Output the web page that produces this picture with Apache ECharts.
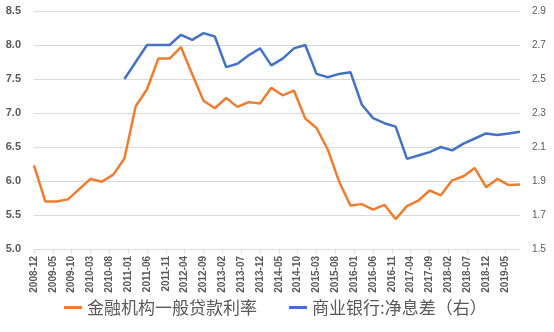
<!DOCTYPE html>
<html>
<head>
<meta charset="utf-8">
<script src="https://cdn.jsdelivr.net/npm/echarts@6/dist/echarts.min.js"></script>
<style>
  html, body { margin: 0; padding: 0; background: #fff; }
  #chart { width: 554px; height: 332px; }
</style>
</head>
<body>
<div id="chart"></div>
<script>
// Quarter-end dates of the observations
const quarters = [
  '2008-12','2009-03','2009-06','2009-09','2009-12','2010-03','2010-06','2010-09',
  '2010-12','2011-03','2011-06','2011-09','2011-12','2012-03','2012-06','2012-09',
  '2012-12','2013-03','2013-06','2013-09','2013-12','2014-03','2014-06','2014-09',
  '2014-12','2015-03','2015-06','2015-09','2015-12','2016-03','2016-06','2016-09',
  '2016-12','2017-03','2017-06','2017-09','2017-12','2018-03','2018-06','2018-09',
  '2018-12','2019-03','2019-06','2019-09'
];

// 金融机构一般贷款利率 (%), left axis
const loanRate = [
  6.23, 5.70, 5.70, 5.73, 5.88, 6.03, 5.99, 6.09,
  6.33, 7.10, 7.35, 7.80, 7.80, 7.97, 7.57, 7.18,
  7.07, 7.22, 7.09, 7.16, 7.14, 7.37, 7.26, 7.33,
  6.92, 6.78, 6.46, 5.99, 5.64, 5.66, 5.58, 5.65,
  5.44, 5.63, 5.71, 5.86, 5.79, 6.01, 6.07, 6.19,
  5.91, 6.03, 5.94, 5.95
];

// 商业银行:净息差 (%), right axis, reported from 2010-12
const nimStart = '2010-12';
const nim = [
  2.50, 2.60, 2.70, 2.70, 2.70, 2.76, 2.73, 2.77,
  2.75, 2.57, 2.59, 2.64, 2.68, 2.58, 2.62, 2.68,
  2.70, 2.53, 2.51, 2.53, 2.54, 2.35, 2.27, 2.24,
  2.22, 2.03, 2.05, 2.07, 2.10, 2.08, 2.12, 2.15,
  2.18, 2.17, 2.18, 2.19
];

// Axis tick labels
const leftTicks = { min: 5.0, max: 8.5, step: 0.5 };
const rightTicks = { min: 1.5, max: 2.9 };
const seriesNames = ['金融机构一般贷款利率', '商业银行:净息差（右）'];

// Monthly date axis from first to last quarter, labelled every 5 months
const months = [];
{
  let [y, m] = quarters[0].split('-').map(Number);
  const [ey, em] = quarters[quarters.length - 1].split('-').map(Number);
  while (y < ey || (y === ey && m <= em)) {
    months.push(y + '-' + String(m).padStart(2, '0'));
    m++; if (m > 12) { m = 1; y++; }
  }
}

const loanData = quarters.map((q, i) => [q, loanRate[i]]);
const nimOffset = quarters.indexOf(nimStart);
const nimData = nim.map((v, i) => [quarters[nimOffset + i], v]);

const chart = echarts.init(document.getElementById('chart'), null, { renderer: 'canvas' });
const labelColor = '#595959';
const gridColor = '#D9D9D9';

chart.setOption({
  animation: false,
  backgroundColor: '#ffffff',
  grid: { left: 34, right: 34, top: 11, bottom: 83, containLabel: false },
  legend: {
    data: seriesNames,
    bottom: 11,
    left: 59,
    itemWidth: 18,
    itemHeight: 3,
    itemGap: 32,
    icon: 'rect',
    textStyle: { fontFamily: 'Noto Sans CJK SC', fontSize: 17, color: labelColor }
  },
  xAxis: {
    type: 'category',
    data: months,
    boundaryGap: false,
    axisLine: { lineStyle: { color: gridColor, width: 1 } },
    axisTick: { interval: 4, length: 4, lineStyle: { color: gridColor } },
    axisLabel: {
      interval: 4,
      rotate: 90,
      margin: 7,
      fontFamily: 'Liberation Sans',
      fontSize: 10,
      fontWeight: 'bold',
      color: labelColor
    },
    splitLine: { show: false }
  },
  yAxis: [
    {
      type: 'value',
      min: leftTicks.min,
      max: leftTicks.max,
      interval: leftTicks.step,
      axisLine: { show: false },
      axisTick: { show: false },
      axisLabel: {
        margin: 13,
        fontFamily: 'Liberation Sans',
        fontSize: 11,
        fontWeight: 'bold',
        color: labelColor,
        formatter: v => v.toFixed(1)
      },
      splitLine: { lineStyle: { color: gridColor, width: 1 } }
    },
    {
      type: 'value',
      min: rightTicks.min,
      max: rightTicks.max,
      alignTicks: true,
      axisLine: { show: false },
      axisTick: { show: false },
      axisLabel: {
        margin: 12,
        fontFamily: 'Liberation Sans',
        fontSize: 10,
        color: labelColor,
        formatter: v => v.toFixed(1)
      },
      splitLine: { show: false }
    }
  ],
  series: [
    {
      name: seriesNames[0],
      type: 'line',
      yAxisIndex: 0,
      data: loanData,
      showSymbol: false,
      symbol: 'none',
      lineStyle: { color: '#ED7D31', width: 2.5 },
      itemStyle: { color: '#ED7D31' }
    },
    {
      name: seriesNames[1],
      type: 'line',
      yAxisIndex: 1,
      data: nimData,
      showSymbol: false,
      symbol: 'none',
      lineStyle: { color: '#4472C4', width: 2.5 },
      itemStyle: { color: '#4472C4' }
    }
  ]
});
</script>
</body>
</html>
